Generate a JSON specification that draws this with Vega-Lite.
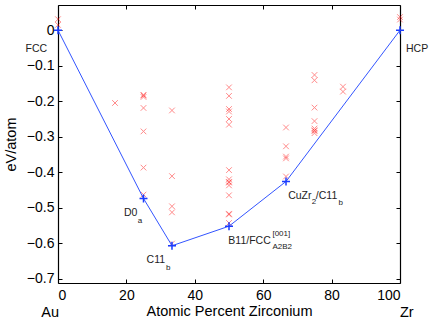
{
  "$schema": "https://vega.github.io/schema/vega-lite/v6.json",
  "width": 342,
  "height": 278,
  "autosize": {"type": "none"},
  "padding": {"left": 58, "top": 5, "right": 36, "bottom": 40},
  "background": "white",
  "config": {
    "view": {"stroke": null},
    "font": "Liberation Sans",
    "axis": {
      "domainColor": "black", "tickColor": "black", "labelColor": "black", "titleColor": "black",
      "grid": false, "labelFont": "Liberation Sans", "titleFont": "Liberation Sans",
      "titleFontWeight": "normal", "labelFontSize": 14, "titleFontSize": 14.5,
      "domainWidth": 1.2, "tickWidth": 1, "tickSize": -4
    }
  },
  "datasets": {
    "structures": [
      {"x": 0, "y": 0.031}, {"x": 0, "y": 0.015},
      {"x": 16.67, "y": -0.205},
      {"x": 25, "y": -0.182}, {"x": 25, "y": -0.184}, {"x": 25, "y": -0.188}, {"x": 25, "y": -0.219}, {"x": 25, "y": -0.285}, {"x": 25, "y": -0.387}, {"x": 25, "y": -0.463},
      {"x": 33.33, "y": -0.226}, {"x": 33.33, "y": -0.411}, {"x": 33.33, "y": -0.496}, {"x": 33.33, "y": -0.513}, {"x": 33.33, "y": -0.601},
      {"x": 50, "y": -0.161}, {"x": 50, "y": -0.185}, {"x": 50, "y": -0.222}, {"x": 50, "y": -0.229}, {"x": 50, "y": -0.250}, {"x": 50, "y": -0.266},
      {"x": 50, "y": -0.394}, {"x": 50, "y": -0.420}, {"x": 50, "y": -0.427}, {"x": 50, "y": -0.429}, {"x": 50, "y": -0.437}, {"x": 50, "y": -0.465},
      {"x": 50, "y": -0.517}, {"x": 50, "y": -0.519}, {"x": 50, "y": -0.543},
      {"x": 66.67, "y": -0.274}, {"x": 66.67, "y": -0.327}, {"x": 66.67, "y": -0.356}, {"x": 66.67, "y": -0.361}, {"x": 66.67, "y": -0.412},
      {"x": 75, "y": -0.126}, {"x": 75, "y": -0.141}, {"x": 75, "y": -0.218}, {"x": 75, "y": -0.256}, {"x": 75, "y": -0.277}, {"x": 75, "y": -0.282}, {"x": 75, "y": -0.284}, {"x": 75, "y": -0.290},
      {"x": 83.33, "y": -0.159}, {"x": 83.33, "y": -0.173},
      {"x": 100, "y": 0.037}, {"x": 100, "y": 0.030}
    ],
    "hull": [
      {"x": 0, "y": 0}, {"x": 25, "y": -0.474}, {"x": 33.33, "y": -0.607}, {"x": 50, "y": -0.552}, {"x": 66.67, "y": -0.426}, {"x": 100, "y": 0}
    ],
    "labels": [
      {"x": -9.5, "y": -0.054, "t": "FCC"},
      {"x": 101.75, "y": -0.054, "t": "HCP"},
      {"x": 19.3, "y": -0.516, "t": "D0"},
      {"x": 25.9, "y": -0.647, "t": "C11"},
      {"x": 49.8, "y": -0.593, "t": "B11/FCC"},
      {"x": 67.3, "y": -0.466, "t": "CuZr"},
      {"x": 75.4, "y": -0.466, "t": "/C11"}
    ],
    "small": [
      {"x": 23.3, "y": -0.537, "t": "a"},
      {"x": 31.6, "y": -0.671, "t": "b"},
      {"x": 62.7, "y": -0.575, "t": "[001]"},
      {"x": 62.7, "y": -0.611, "t": "A2B2"},
      {"x": 74.2, "y": -0.485, "t": "2"},
      {"x": 82.0, "y": -0.486, "t": "b"}
    ],
    "ends": [
      {"x": -2.3, "y": -0.797, "t": "Au"},
      {"x": 102, "y": -0.797, "t": "Zr"}
    ]
  },
  "layer": [
    {
      "data": {"name": "structures"},
      "mark": {"type": "point", "shape": "M-1,-1L1,1M-1,1L1,-1", "filled": false, "color": "#ff0000", "opacity": 0.45, "size": 32, "strokeWidth": 1},
      "encoding": {
        "x": {"field": "x", "type": "quantitative", "scale": {"domain": [0, 100], "nice": false, "zero": false},
              "axis": {"orient": "bottom", "values": [0, 20, 40, 60, 80, 100], "title": "Atomic Percent Zirconium", "labelPadding": 9, "titlePadding": 2}},
        "y": {"field": "y", "type": "quantitative", "scale": {"domain": [-0.712, 0.071], "nice": false, "zero": false},
              "axis": {"orient": "left", "values": [-0.7, -0.6, -0.5, -0.4, -0.3, -0.2, -0.1, 0],
                       "labelExpr": "datum.value == 0 ? '0' : '\u2212' + format(-datum.value, '.1f')",
                       "title": "eV/atom", "labelPadding": 8, "titlePadding": 8}}
      }
    },
    {
      "data": {"name": "hull"},
      "mark": {"type": "line", "color": "#3355ff", "strokeWidth": 1},
      "encoding": {
        "x": {"field": "x", "type": "quantitative", "axis": {"orient": "top", "values": [0, 20, 40, 60, 80, 100], "labels": false, "title": null}},
        "y": {"field": "y", "type": "quantitative", "axis": {"orient": "right", "values": [-0.7, -0.6, -0.5, -0.4, -0.3, -0.2, -0.1, 0], "labels": false, "title": null}}
      }
    },
    {
      "data": {"name": "hull"},
      "mark": {"type": "point", "shape": "M-1,0L1,0M0,-1L0,1", "filled": false, "color": "#1a3cff", "opacity": 1, "size": 64, "strokeWidth": 1.5},
      "encoding": {
        "x": {"field": "x", "type": "quantitative", "axis": null},
        "y": {"field": "y", "type": "quantitative", "axis": null}
      }
    },
    {
      "data": {"name": "labels"},
      "mark": {"type": "text", "align": "left", "baseline": "middle", "fontSize": 10.5, "color": "#222222"},
      "encoding": {
        "x": {"field": "x", "type": "quantitative", "axis": null},
        "y": {"field": "y", "type": "quantitative", "axis": null},
        "text": {"field": "t"}
      }
    },
    {
      "data": {"name": "small"},
      "mark": {"type": "text", "align": "left", "baseline": "middle", "fontSize": 8, "color": "#222222"},
      "encoding": {
        "x": {"field": "x", "type": "quantitative", "axis": null},
        "y": {"field": "y", "type": "quantitative", "axis": null},
        "text": {"field": "t"}
      }
    },
    {
      "data": {"name": "ends"},
      "mark": {"type": "text", "align": "center", "baseline": "middle", "fontSize": 14.5, "color": "black"},
      "encoding": {
        "x": {"field": "x", "type": "quantitative", "axis": null},
        "y": {"field": "y", "type": "quantitative", "axis": null},
        "text": {"field": "t"}
      }
    }
  ],
  "resolve": {"axis": {"x": "independent", "y": "independent"}}
}
